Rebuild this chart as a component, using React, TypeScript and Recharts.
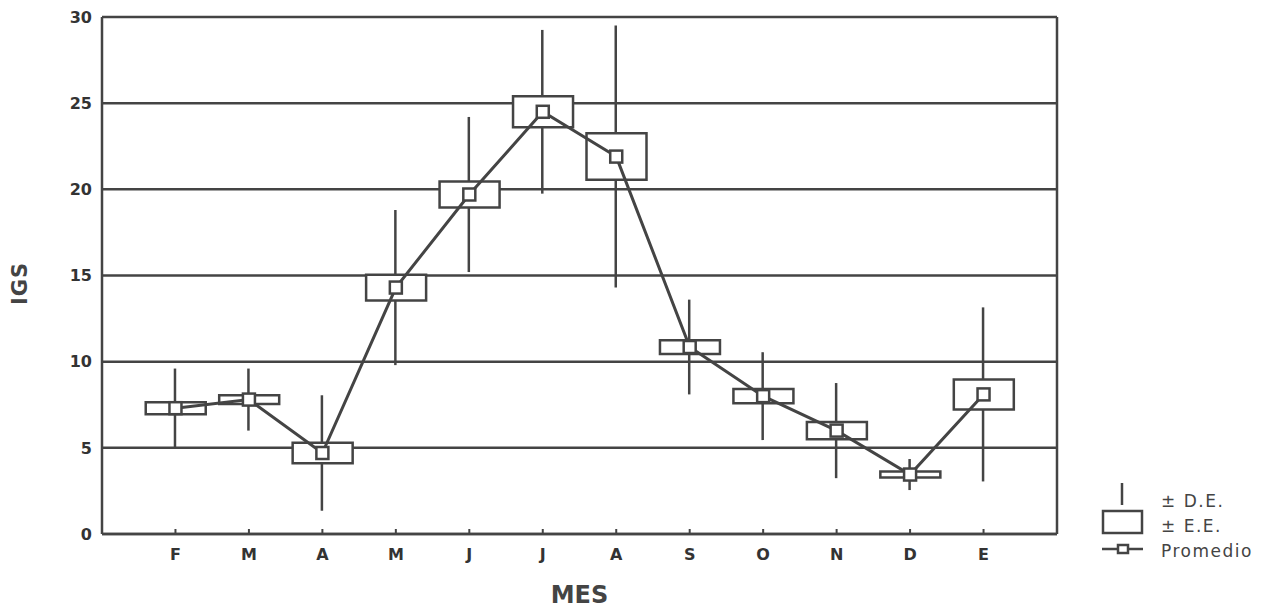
import {
  ComposedChart,
  XAxis,
  YAxis,
  CartesianGrid,
  Bar,
  Line,
  Label,
} from "recharts"

// Monthly IGS: mean, standard error and standard deviation
const months = ["F", "M", "A", "M", "J", "J", "A", "S", "O", "N", "D", "E"]
const means = [7.3, 7.8, 4.7, 14.3, 19.7, 24.5, 21.9, 10.85, 8.0, 6.0, 3.45, 8.1]
const stdErr = [0.35, 0.25, 0.6, 0.75, 0.75, 0.9, 1.35, 0.4, 0.42, 0.5, 0.17, 0.87]
const stdDev = [2.3, 1.8, 3.35, 4.5, 4.5, 4.75, 7.6, 2.75, 2.55, 2.76, 0.9, 5.05]
const yTicks = [0, 5, 10, 15, 20, 25, 30]
const xTicks = months.map((_, i) => i + 1)

const data = months.map((m, i) => ({
  pos: i + 1,
  month: m,
  mean: means[i],
  sdRange: [means[i] - stdDev[i], means[i] + stdDev[i]],
  seRange: [means[i] - stdErr[i], means[i] + stdErr[i]],
}))

const INK = "#444"
const TICK_FONT = "'DejaVu Sans', sans-serif"

const BottomTick = ({ x, y, payload }: any) => (
  <g>
    <line x1={x} y1={y} x2={x} y2={y - 5} stroke={INK} strokeWidth={2} />
    <text
      x={x}
      y={y + 20}
      textAnchor="middle"
      dominantBaseline="central"
      fontFamily={TICK_FONT}
      fontWeight="bold"
      fontSize={16}
      fill="#333"
    >
      {months[payload.value - 1]}
    </text>
  </g>
)

const TopTick = ({ x, y }: any) => (
  <line x1={x} y1={y} x2={x} y2={y + 5} stroke={INK} strokeWidth={2} />
)

const MeanDot = ({ cx, cy }: any) => (
  <rect x={cx - 6} y={cy - 6} width={12} height={12} fill="#fff" stroke={INK} strokeWidth={2.5} />
)

const YTitle = ({ viewBox }: any) => {
  const cx = viewBox.x + 20
  const cy = viewBox.y + viewBox.height / 2 + 8
  return (
    <text
      x={cx}
      y={cy}
      transform={`rotate(-90, ${cx}, ${cy})`}
      textAnchor="middle"
      dominantBaseline="central"
      fontFamily={TICK_FONT}
      fontWeight="bold"
      fontSize={21}
      letterSpacing={1}
      fill={INK}
    >
      IGS
    </text>
  )
}

const XTitle = ({ viewBox }: any) => (
  <text
    x={viewBox.x + viewBox.width / 2}
    y={viewBox.y + 69}
    textAnchor="middle"
    fontFamily={TICK_FONT}
    fontWeight="bold"
    fontSize={24}
    fill={INK}
  >
    MES
  </text>
)

const legendText = {
  fontFamily: TICK_FONT,
  fontSize: 17,
  letterSpacing: 1.5,
  color: "#444",
  lineHeight: "25px",
}

function BoxLegend() {
  return (
    <div style={{ position: "absolute", left: 1100, top: 480, display: "flex" }}>
      <svg width={48} height={80}>
        <line x1={22} y1={3} x2={22} y2={25} stroke={INK} strokeWidth={2.5} />
        <rect x={3} y={31} width={39} height={22} fill="#fff" stroke={INK} strokeWidth={2.5} />
        <line x1={2} y1={69} x2={43} y2={69} stroke={INK} strokeWidth={2.5} />
        <rect x={18} y={65} width={10} height={8} fill="#fff" stroke={INK} strokeWidth={2.5} />
      </svg>
      <div style={{ ...legendText, marginLeft: 13, marginTop: 9 }}>
        <div>± D.E.</div>
        <div>± E.E.</div>
        <div>Promedio</div>
      </div>
    </div>
  )
}

export default function App() {
  return (
    <div style={{ position: "absolute", left: 0, top: 0, width: 1271, height: 610, background: "#fff" }}>
      <ComposedChart
        width={1271}
        height={610}
        data={data}
        margin={{ top: 17, right: 213, bottom: 0, left: 0 }}
      >
        <CartesianGrid vertical={false} stroke={INK} strokeWidth={2.5} />
        <XAxis
          dataKey="pos"
          type="number"
          domain={[0, 13]}
          ticks={xTicks}
          height={76}
          tickLine={false}
          tickSize={0}
          tickMargin={0}
          tick={<BottomTick />}
          axisLine={{ stroke: INK, strokeWidth: 2.5 }}
        >
          <Label content={<XTitle />} />
        </XAxis>
        <XAxis
          xAxisId="top"
          dataKey="pos"
          type="number"
          orientation="top"
          domain={[0, 13]}
          ticks={xTicks}
          height={0}
          tickLine={false}
          tickSize={0}
          tickMargin={0}
          tick={<TopTick />}
          axisLine={{ stroke: INK, strokeWidth: 2.5 }}
        />
        {/* separate scale for the whiskers so they sit centred under the boxes */}
        <XAxis xAxisId="sd" dataKey="pos" type="number" domain={[0, 13]} hide />
        <YAxis
          domain={[0, 30]}
          ticks={yTicks}
          width={102}
          tickLine={false}
          tickSize={0}
          tickMargin={10}
          axisLine={{ stroke: INK, strokeWidth: 2.5 }}
          tick={{ fontFamily: TICK_FONT, fontWeight: "bold", fontSize: 16, fill: "#333" }}
        >
          <Label content={<YTitle />} />
        </YAxis>
        <YAxis
          yAxisId="right"
          orientation="right"
          domain={[0, 30]}
          width={1}
          tick={false}
          tickLine={false}
          axisLine={{ stroke: INK, strokeWidth: 2.5 }}
        />
        {/* ± standard deviation whiskers */}
        <Bar xAxisId="sd" dataKey="sdRange" barSize={2.5} fill={INK} isAnimationActive={false} />
        {/* ± standard error boxes */}
        <Bar
          dataKey="seRange"
          barSize={60}
          fill="#fff"
          stroke={INK}
          strokeWidth={2.5}
          isAnimationActive={false}
        />
        {/* mean */}
        <Line
          dataKey="mean"
          stroke={INK}
          strokeWidth={3}
          dot={<MeanDot />}
          activeDot={false}
          isAnimationActive={false}
        />
      </ComposedChart>
      <BoxLegend />
    </div>
  )
}
